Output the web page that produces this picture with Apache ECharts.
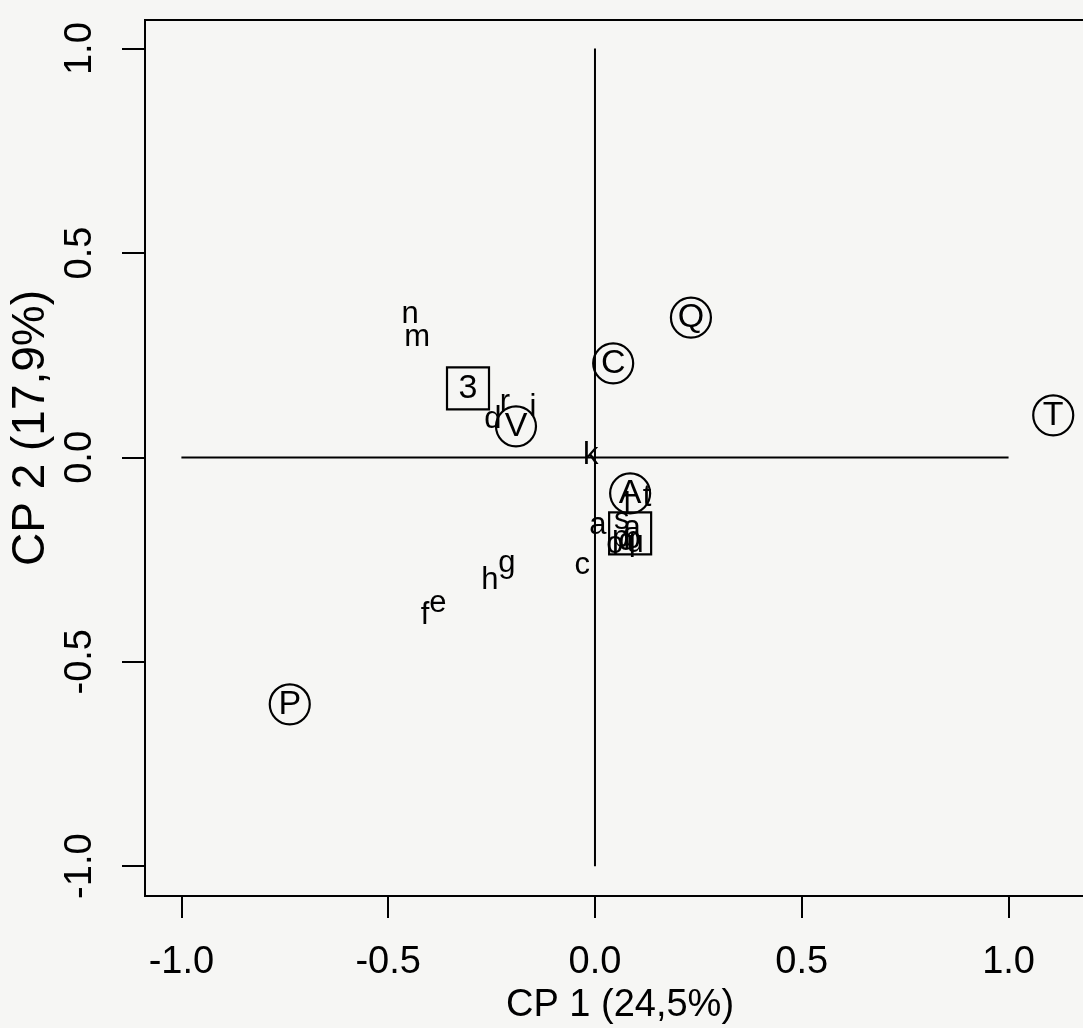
<!DOCTYPE html>
<html>
<head>
<meta charset="utf-8">
<script src="https://cdn.jsdelivr.net/npm/echarts@6/dist/echarts.min.js"></script>
<style>
html,body{margin:0;padding:0;background:#f6f6f4;}
#c{width:1083px;height:1028px;}
</style>
</head>
<body>
<div id="c"></div>
<script>
// ---- data ----
const tickValues = [-1.0, -0.5, 0.0, 0.5, 1.0];
const xTitle = 'CP 1 (24,5%)';
const yTitle = 'CP 2 (17,9%)';

const circleLabels = ['Q', 'C', 'V', 'T', 'A', 'P'];
const circleX = [0.232, 0.044, -0.191, 1.108, 0.085, -0.738];
const circleY = [0.342, 0.230, 0.076, 0.103, -0.088, -0.604];

const squareLabels = ['3', ''];
const squareX = [-0.307, 0.085];
const squareY = [0.169, -0.186];

const letterLabels = ['n', 'm', 'r', 'i', 'd', 'k', 'a', 'c', 'g', 'h', 'e', 'f', 'l', 't', 's', 'a', 'p', 'q', 'b', 'u', 'o'];
const letterX = [-0.447, -0.430, -0.218, -0.150, -0.247, -0.010, 0.007, -0.031, -0.213, -0.254, -0.380, -0.411, 0.078, 0.126, 0.065, 0.090, 0.062, 0.078, 0.090, 0.097, 0.048];
const letterY = [0.350, 0.293, 0.134, 0.122, 0.093, 0.005, -0.166, -0.264, -0.259, -0.301, -0.357, -0.386, -0.118, -0.098, -0.154, -0.174, -0.198, -0.205, -0.200, -0.210, -0.212];

const hLine = [[-1, 0], [1, 0]];
const vLine = [[0, -1], [0, 1]];

// ---- build ----
const ink = '#000';
const font = 'Liberation Sans, Arial, sans-serif';
function pts(labels, xs, ys) {
  return labels.map((l, i) => ({ name: l, value: [xs[i], ys[i]] }));
}

const chart = echarts.init(document.getElementById('c'), null, { renderer: 'canvas' });
chart.setOption({
  backgroundColor: '#f6f6f4',
  animation: false,
  grid: {
    left: 145, top: 20, bottom: 132, right: -12,
    outerBoundsMode: 'none', containLabel: false,
    show: true, borderColor: ink, borderWidth: 2, backgroundColor: 'transparent'
  },
  xAxis: {
    type: 'value', min: -1.088, max: 1.209,
    axisLine: { show: false, onZero: false },
    splitLine: { show: false },
    axisTick: { show: true, customValues: tickValues, length: 22, lineStyle: { color: ink, width: 2 } },
    axisLabel: {
      customValues: tickValues, margin: 48, color: ink, fontSize: 38, fontFamily: font,
      formatter: v => v.toFixed(1)
    },
    name: xTitle, nameLocation: 'middle', nameGap: 86,
    nameTextStyle: { color: ink, fontSize: 38, fontFamily: font }
  },
  yAxis: {
    type: 'value', min: -1.073, max: 1.070,
    axisLine: { show: false, onZero: false },
    splitLine: { show: false },
    axisTick: { show: true, customValues: tickValues, length: 23, lineStyle: { color: ink, width: 2 } },
    axisLabel: {
      customValues: tickValues, margin: 45, color: ink, fontSize: 38, fontFamily: font, rotate: 90,
      formatter: v => v.toFixed(1)
    },
    name: yTitle, nameLocation: 'middle', nameGap: 78, nameRotate: 90,
    nameTextStyle: { color: ink, fontSize: 46, fontFamily: font, padding: [0, 0, 0, 60] }
  },
  series: [
    { type: 'line', data: hLine, symbol: 'none', silent: true, lineStyle: { color: ink, width: 2 } },
    { type: 'line', data: vLine, symbol: 'none', silent: true, lineStyle: { color: ink, width: 2 } },
    {
      type: 'scatter', data: pts(circleLabels, circleX, circleY), symbol: 'circle', symbolSize: 40,
      itemStyle: { color: 'rgba(0,0,0,0)', borderColor: ink, borderWidth: 2.2, opacity: 1 },
      label: { show: true, position: 'inside', formatter: '{b}', color: ink, fontSize: 34, fontFamily: font }
    },
    {
      type: 'scatter', data: pts(squareLabels, squareX, squareY), symbol: 'rect', symbolSize: 42,
      itemStyle: { color: 'rgba(0,0,0,0)', borderColor: ink, borderWidth: 2.2, opacity: 1 },
      label: { show: true, position: 'inside', formatter: '{b}', color: ink, fontSize: 34, fontFamily: font }
    },
    {
      type: 'scatter', data: pts(letterLabels, letterX, letterY), symbol: 'circle', symbolSize: 1,
      itemStyle: { color: 'rgba(0,0,0,0)', opacity: 1 },
      label: { show: true, position: 'inside', formatter: '{b}', color: ink, fontSize: 31, fontFamily: font }
    }
  ]
});
</script>
</body>
</html>
